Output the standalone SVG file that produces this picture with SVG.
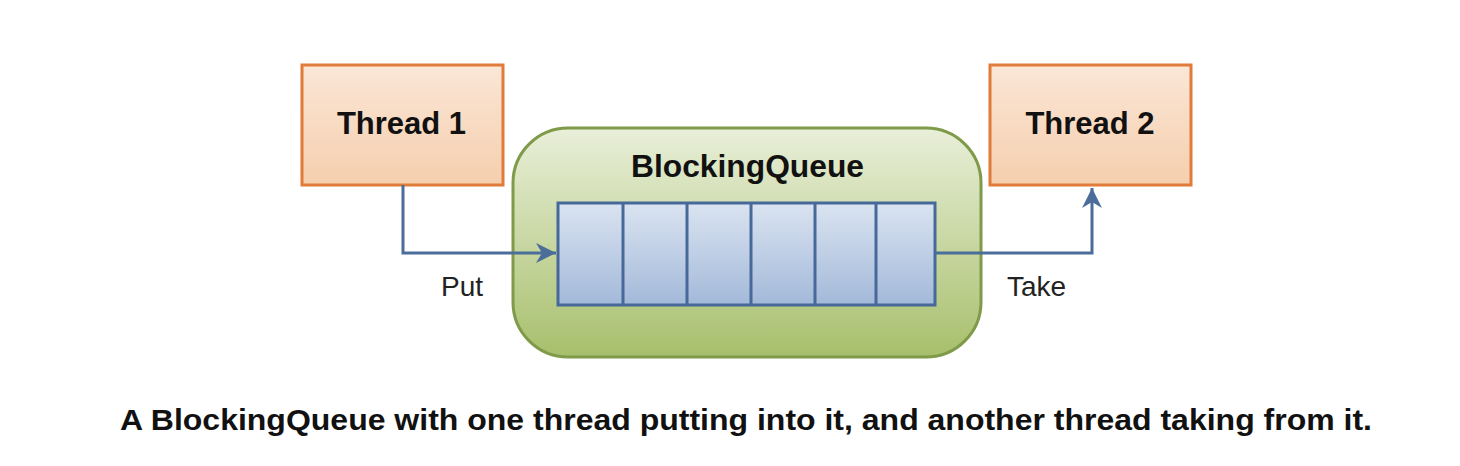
<svg xmlns="http://www.w3.org/2000/svg" width="1460" height="466" viewBox="0 0 1460 466">
<defs>
<linearGradient id="gOrange" x1="0" y1="0" x2="0" y2="1"><stop offset="0" stop-color="#fbe6d6"/><stop offset="1" stop-color="#f5cfae"/></linearGradient>
<linearGradient id="gGreen" x1="0" y1="0" x2="0" y2="1"><stop offset="0" stop-color="#e9efd9"/><stop offset="1" stop-color="#a7bf6c"/></linearGradient>
<linearGradient id="gBlue" x1="0" y1="0" x2="0" y2="1"><stop offset="0" stop-color="#dae4f1"/><stop offset="1" stop-color="#a3b9d9"/></linearGradient>
<marker id="arr" viewBox="0 0 10 10" refX="10" refY="5" markerWidth="20" markerHeight="20" markerUnits="userSpaceOnUse" orient="auto"><path d="M0,0 L10,5 L0,10 L3,5 Z" fill="#4a6d9a"/></marker>
<style>
.thread{fill:url(#gOrange);stroke:#e07b39;stroke-width:3}
.lbl{font-family:"Liberation Sans",Arial,sans-serif;font-weight:bold;fill:#111}
.conn{fill:none;stroke:#4a6d9a;stroke-width:3}
.cell{fill:none;stroke:#47699a;stroke-width:3}
.elbl{font-family:"Liberation Sans",Arial,sans-serif;font-size:28px;fill:#222}
</style>
</defs>
<rect width="1460" height="466" fill="#fff"/>
<g id="blockingqueue">
<rect x="513" y="128" width="468" height="229" rx="55" ry="55" fill="url(#gGreen)" stroke="#7f9a48" stroke-width="3"/>
<text class="lbl" x="747.5" y="177" font-size="31" text-anchor="middle" textLength="233" lengthAdjust="spacingAndGlyphs">BlockingQueue</text>
<rect x="558" y="203" width="377" height="102" fill="url(#gBlue)" stroke="#47699a" stroke-width="3"/>
<path class="cell" d="M623,203V305M687,203V305M751,203V305M815,203V305M876,203V305"/>
</g>
<g id="thread1">
<rect class="thread" x="302" y="65" width="201" height="120"/>
<text class="lbl" x="401.5" y="134" font-size="31" text-anchor="middle">Thread 1</text>
</g>
<g id="thread2">
<rect class="thread" x="990" y="65" width="201" height="120"/>
<text class="lbl" x="1090" y="134" font-size="31" text-anchor="middle">Thread 2</text>
</g>
<g id="connectors">
<path class="conn" d="M403,185V253H556" marker-end="url(#arr)"/>
<path class="conn" d="M935,253H1092V188" marker-end="url(#arr)"/>
<text class="elbl" x="462" y="296" text-anchor="middle">Put</text>
<text class="elbl" x="1036.5" y="296" text-anchor="middle">Take</text>
</g>
<text class="lbl" x="746" y="430" font-size="30" text-anchor="middle" textLength="1252" lengthAdjust="spacingAndGlyphs">A BlockingQueue with one thread putting into it, and another thread taking from it.</text>
</svg>
